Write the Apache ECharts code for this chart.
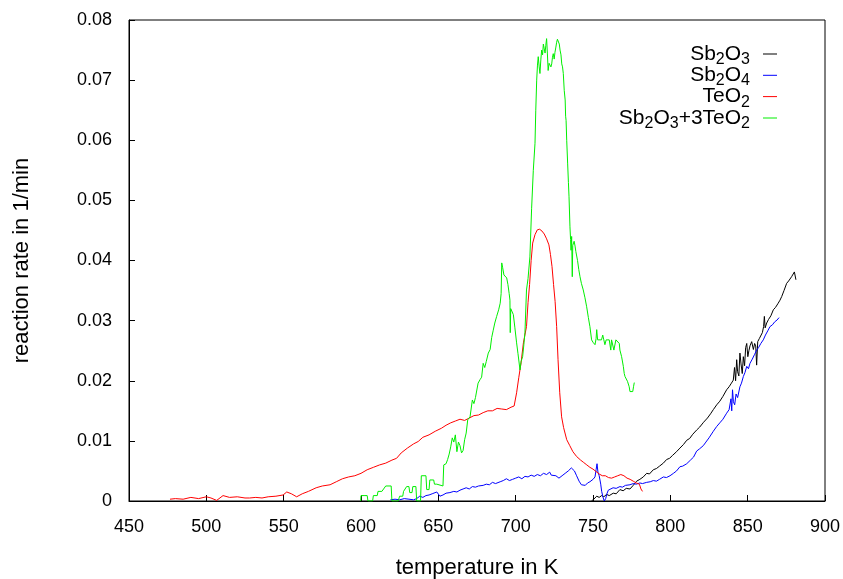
<!DOCTYPE html>
<html>
<head>
<meta charset="utf-8">
<script src="https://cdn.jsdelivr.net/npm/echarts@6/dist/echarts.min.js"></script>
<style>html,body{margin:0;padding:0;background:#fff;overflow:hidden;}#c{width:843px;height:579px;}</style>
</head>
<body>
<div id="c"></div>
<script>
// ---- data ----
const xTicks = [450, 500, 550, 600, 650, 700, 750, 800, 850, 900];
const yTicks = [0, 0.01, 0.02, 0.03, 0.04, 0.05, 0.06, 0.07, 0.08];
const seriesNames = ['Sb2O3', 'Sb2O4', 'TeO2', 'Sb2O3+3TeO2'];
const legendLabels = ['{n|Sb}{s|2}{n|O}{s|3}', '{n|Sb}{s|2}{n|O}{s|4}', '{n|TeO}{s|2}', '{n|Sb}{s|2}{n|O}{s|3}{n|+3TeO}{s|2}'];

const sb2o3T = [749, 750.5, 752.4, 754, 755.6, 757, 758.8, 760.5, 763.1, 765, 767.4, 769.5, 771.5, 773.9, 776, 778.2, 780.3, 782.5, 784.7, 786.5, 789, 791, 793, 795.5, 797.6, 799.5, 801.5, 804, 806.2, 808.5, 810.6, 812.5, 814.5, 817, 819, 821.5, 824, 826, 827.8, 830, 832, 834, 836.4, 838, 839.5, 840.7, 841.5, 842.2, 842.9, 843.5, 844.3, 845, 845.7, 846.5, 847.2, 848, 848.7, 849.4, 850.1, 850.8, 851.5, 852.6, 853.7, 854.5, 855.2, 855.8, 856.5, 857.5, 858.5, 859.5, 860.3, 860.8, 861.3, 862.3, 863.5, 865, 866.6, 868, 869.5, 870.9, 872, 873.5, 875.2, 876.5, 878.4, 879.3, 880.2, 881.2];
const sb2o3R = [0.0, 0.0003, 0.0008, 0.0006, 0.0009, 0.0007, 0.0011, 0.0009, 0.0013, 0.0012, 0.0019, 0.0017, 0.0021, 0.0020, 0.0026, 0.0033, 0.0036, 0.0040, 0.0046, 0.0045, 0.0052, 0.0054, 0.0058, 0.0063, 0.0069, 0.0071, 0.0076, 0.0082, 0.0088, 0.0094, 0.0101, 0.0104, 0.0111, 0.0118, 0.0123, 0.0131, 0.0138, 0.0145, 0.0152, 0.0160, 0.0166, 0.0174, 0.0185, 0.0190, 0.0196, 0.0201, 0.0222, 0.0200, 0.0235, 0.0215, 0.0208, 0.0246, 0.0228, 0.0212, 0.0240, 0.0225, 0.0255, 0.0262, 0.0240, 0.0250, 0.0258, 0.0265, 0.0252, 0.0262, 0.0258, 0.0226, 0.0265, 0.0270, 0.0272, 0.0280, 0.0290, 0.0307, 0.0288, 0.0296, 0.0302, 0.0308, 0.0318, 0.0322, 0.0328, 0.0334, 0.0340, 0.0350, 0.0362, 0.0366, 0.0373, 0.0376, 0.0381, 0.0368];

const sb2o4T = [619, 622, 625, 628, 631, 634, 636, 638, 640, 642, 644, 646, 649, 651, 653, 655, 657.5, 660, 662, 664, 666, 668, 670, 672, 674, 676, 679, 681, 683, 685, 687, 690, 692, 694, 696, 698, 700, 702, 704, 706, 708, 710, 712, 714, 716, 718, 720, 722, 723, 724, 726, 728, 730, 732, 734, 736, 737, 738, 739.4, 741, 742.5, 743.7, 745, 746.5, 748, 750, 751.3, 752, 752.6, 753.2, 754, 755, 755.6, 756.5, 757.3, 758.2, 759, 759.9, 761, 763, 765, 767.4, 769, 771, 773.9, 776, 778, 780.3, 782, 784.7, 787, 789, 791, 793, 795.5, 797.5, 799.8, 802, 804, 806.2, 808, 810.6, 813, 815, 817, 819, 821.3, 823, 825, 827.8, 830, 832, 834, 836.4, 838, 839.2, 839.7, 840.2, 840.8, 841.6, 842.5, 843.5, 845, 846, 847.2, 848.3, 849.4, 850.5, 851.5, 853, 854.5, 855.8, 857, 858.5, 860.1, 861.5, 863, 864.4, 866, 867.5, 869, 870.3];
const sb2o4R = [0.0002, 0.0003, 0.0002, 0.0004, 0.0003, 0.0002, 0.0004, 0.0008, 0.0006, 0.0009, 0.0010, 0.0012, 0.0015, 0.0008, 0.0010, 0.0013, 0.0014, 0.0016, 0.0015, 0.0018, 0.0020, 0.0022, 0.0020, 0.0024, 0.0023, 0.0025, 0.0026, 0.0028, 0.0027, 0.0031, 0.0029, 0.0032, 0.0034, 0.0037, 0.0034, 0.0036, 0.0038, 0.0040, 0.0037, 0.0041, 0.0040, 0.0043, 0.0041, 0.0044, 0.0042, 0.0046, 0.0044, 0.0048, 0.0043, 0.0046, 0.0042, 0.0038, 0.0042, 0.0046, 0.0050, 0.0055, 0.0056, 0.0050, 0.0042, 0.0033, 0.0027, 0.0024, 0.0026, 0.0030, 0.0032, 0.0036, 0.0040, 0.0052, 0.0062, 0.0048, 0.0042, 0.0028, 0.0016, 0.0006, 0.0, 0.0004, 0.0012, 0.0018, 0.0020, 0.0022, 0.0021, 0.0024, 0.0023, 0.0026, 0.0027, 0.0029, 0.0028, 0.0030, 0.0029, 0.0031, 0.0032, 0.0034, 0.0033, 0.0036, 0.0040, 0.0039, 0.0042, 0.0046, 0.0050, 0.0057, 0.0058, 0.0062, 0.0068, 0.0073, 0.0083, 0.0087, 0.0092, 0.0098, 0.0105, 0.0116, 0.0124, 0.0130, 0.0136, 0.0146, 0.0152, 0.0170, 0.0150, 0.0185, 0.0165, 0.0160, 0.0178, 0.0172, 0.0190, 0.0196, 0.0207, 0.0214, 0.0224, 0.0220, 0.0229, 0.0236, 0.0244, 0.0251, 0.0255, 0.0262, 0.0268, 0.0276, 0.0283, 0.0290, 0.0293, 0.0298, 0.0301, 0.0305];

const teo2T = [476.5, 480, 485, 490, 495, 500, 503, 506.7, 510.8, 515, 520, 525, 528, 532, 536, 540, 545, 549.6, 552, 555, 558.4, 562, 566, 571, 575, 580, 584, 588, 592, 596, 600, 604, 608, 612, 616, 620, 623, 626, 630, 634, 637, 640, 644, 648, 652, 655, 658, 661, 664, 667, 670, 673, 676, 679, 682, 685, 688, 691, 694, 697, 699, 700.6, 702, 703.5, 705, 707, 708, 709, 710, 711, 712.5, 714, 715.5, 717, 718.5, 720, 721.5, 722.5, 723.5, 724.5, 725.5, 726.5, 727.4, 728.5, 729.7, 731, 733, 735, 737, 739.4, 742, 744, 746, 748, 750, 752, 754, 756, 758, 760, 762, 764, 766, 768, 770, 772, 774, 776, 778, 780, 781, 782];
const teo2R = [0.0003, 0.0004, 0.0003, 0.0006, 0.0004, 0.0007, 0.0005, 0.0001, 0.0009, 0.0006, 0.0007, 0.0005, 0.0005, 0.0006, 0.0005, 0.0007, 0.0008, 0.0010, 0.0015, 0.0012, 0.0007, 0.0012, 0.0016, 0.0022, 0.0025, 0.0027, 0.0032, 0.0037, 0.0040, 0.0042, 0.0046, 0.0052, 0.0056, 0.0060, 0.0063, 0.0068, 0.0071, 0.0080, 0.0088, 0.0095, 0.0099, 0.0106, 0.0110, 0.0116, 0.0121, 0.0126, 0.0130, 0.0133, 0.0136, 0.0134, 0.0138, 0.0142, 0.0143, 0.0147, 0.0150, 0.0150, 0.0154, 0.0153, 0.0152, 0.0156, 0.0158, 0.0180, 0.0205, 0.0230, 0.0263, 0.0290, 0.0330, 0.0360, 0.0400, 0.0429, 0.0443, 0.0451, 0.0452, 0.0449, 0.0444, 0.0436, 0.0426, 0.0410, 0.0390, 0.0360, 0.0332, 0.0290, 0.0235, 0.0180, 0.0140, 0.0122, 0.0102, 0.0092, 0.0082, 0.0074, 0.0068, 0.0064, 0.0060, 0.0056, 0.0053, 0.0049, 0.0045, 0.0042, 0.0042, 0.0039, 0.0038, 0.0040, 0.0042, 0.0044, 0.0042, 0.0038, 0.0036, 0.0033, 0.0030, 0.0028, 0.0020, 0.0016];

const mixT = [599.8, 600, 602, 604, 604.5, 607.5, 608, 610.5, 611, 613.5, 614, 616, 619.5, 620, 624, 625, 627, 627.5, 629.5, 631, 631.5, 633, 633.5, 635.5, 636, 638.5, 639, 642, 642.5, 644, 644.5, 647, 647.5, 649, 649.5, 653, 653.5, 655, 656, 657, 658, 659, 660, 661, 662, 663, 664, 665, 666, 667, 668, 669, 670.5, 672, 673, 674, 675.7, 677, 678, 679, 680, 681, 682.3, 683.5, 684.5, 685.5, 686.5, 687.7, 689, 690, 690.6, 691, 691.6, 692.4, 693.3, 694.2, 695, 695.8, 696.3, 696.5, 696.8, 697.5, 698.5, 699.5, 700.6, 701.5, 702.8, 703.5, 704.5, 705.3, 706, 707, 708, 709.2, 710.3, 711.4, 712.5, 713, 713.6, 714.1, 714.6, 715.2, 715.7, 716.3, 716.8, 717.4, 717.9, 718.5, 719, 719.5, 720, 720.5, 721, 721.6, 722.2, 722.8, 723.3, 723.8, 724.3, 724.9, 725.4, 726, 726.5, 727, 727.6, 728.2, 728.7, 729.3, 729.8, 730.3, 730.8, 731.4, 732, 732.3, 732.6, 733, 733.6, 734.1, 734.5, 735.1, 735.5, 735.8, 736.2, 736.6, 736.9, 737.3, 737.8, 738.4, 738.9, 739.4, 740, 740.8, 741.6, 742.5, 743.7, 744.8, 745.9, 747, 748, 748.5, 749.1, 750, 751.3, 752, 752.4, 753, 754, 755.5, 756.3, 757, 757.7, 758.5, 759.5, 760.5, 761.5, 762, 763, 763.5, 764.2, 764.8, 766, 767, 767.4, 768.5, 769.6, 770.2, 770.7, 771.5, 772.3, 772.8, 773.4, 773.9, 775, 775.7, 776.2, 776.7];
const mixR = [0.0, 0.0009, 0.0009, 0.0009, 0.0, 0.0, 0.0009, 0.0009, 0.0016, 0.0016, 0.0018, 0.0025, 0.0025, 0.0, 0.0, 0.0008, 0.0008, 0.0016, 0.0024, 0.0024, 0.0014, 0.0014, 0.0024, 0.0024, 0.0, 0.0, 0.0042, 0.0042, 0.0019, 0.0019, 0.0035, 0.0035, 0.0028, 0.0028, 0.0025, 0.0025, 0.0060, 0.0062, 0.0069, 0.0078, 0.0090, 0.0105, 0.0098, 0.0110, 0.0082, 0.0098, 0.0092, 0.0080, 0.0084, 0.0102, 0.0113, 0.0135, 0.0140, 0.0168, 0.0162, 0.0172, 0.0196, 0.0202, 0.0206, 0.0229, 0.0222, 0.0232, 0.0246, 0.0252, 0.0272, 0.0284, 0.0296, 0.0307, 0.0318, 0.0329, 0.0345, 0.0396, 0.0388, 0.0376, 0.0378, 0.0371, 0.0360, 0.0345, 0.0334, 0.0280, 0.0320, 0.0318, 0.0310, 0.0288, 0.0263, 0.0245, 0.0218, 0.0232, 0.0240, 0.0260, 0.0280, 0.0351, 0.0370, 0.0406, 0.0486, 0.0550, 0.0595, 0.0650, 0.0700, 0.0725, 0.0739, 0.0722, 0.0711, 0.0735, 0.0750, 0.0742, 0.0760, 0.0752, 0.0745, 0.0758, 0.0769, 0.0745, 0.0716, 0.0728, 0.0730, 0.0722, 0.0727, 0.0738, 0.0744, 0.0735, 0.0746, 0.0755, 0.0763, 0.0768, 0.0769, 0.0760, 0.0750, 0.0742, 0.0727, 0.0722, 0.0711, 0.0683, 0.0667, 0.0640, 0.0633, 0.0600, 0.0562, 0.0530, 0.0506, 0.0456, 0.0435, 0.0417, 0.0440, 0.0373, 0.0425, 0.0428, 0.0432, 0.0424, 0.0415, 0.0412, 0.0400, 0.0385, 0.0373, 0.0362, 0.0351, 0.0338, 0.0323, 0.0305, 0.0290, 0.0293, 0.0268, 0.0264, 0.0260, 0.0270, 0.0285, 0.0268, 0.0268, 0.0268, 0.0276, 0.0268, 0.0260, 0.0268, 0.0268, 0.0268, 0.0251, 0.0268, 0.0268, 0.0251, 0.0251, 0.0268, 0.0268, 0.0262, 0.0251, 0.0240, 0.0224, 0.0212, 0.0207, 0.0207, 0.0199, 0.0199, 0.0190, 0.0182, 0.0182, 0.0182, 0.0190, 0.0197];

const seriesT = [sb2o3T, sb2o4T, teo2T, mixT];
const seriesR = [sb2o3R, sb2o4R, teo2R, mixR];
const colors = ['#000000', '#0000ff', '#ff0000', '#00ee00'];

const font = 'Liberation Sans, Arial, Helvetica, sans-serif';
const chart = echarts.init(document.getElementById('c'), null, {renderer: 'canvas'});

const legendTops = [43.5, 64.8, 86.1, 107.5];
const legends = seriesNames.map((n, i) => ({
  orient: 'vertical', right: 66, top: legendTops[i], align: 'right', padding: 0,
  itemWidth: 14, itemHeight: 1, icon: 'rect',
  data: [n],
  formatter: () => legendLabels[i],
  textStyle: {
    padding: [0, 8, 0, 0],
    rich: {
      n: {fontSize: 21, lineHeight: 21, verticalAlign: 'top', fontFamily: font, color: '#000'},
      s: {fontSize: 16, lineHeight: 21, padding: [8, 0, 12, 0], verticalAlign: 'top', fontFamily: font, color: '#000'}
    }
  }
}));

chart.setOption({
  animation: false,
  backgroundColor: '#ffffff',
  grid: {left: 129, right: 18, top: 20, bottom: 78, show: true, borderColor: '#000', borderWidth: 1,
    backgroundColor: 'transparent', outerBoundsMode: 'none', containLabel: false},
  legend: legends,
  xAxis: {
    type: 'value', min: xTicks[0], max: xTicks[xTicks.length - 1], interval: xTicks[1] - xTicks[0],
    name: 'temperature in K', nameLocation: 'middle', nameGap: 56,
    nameTextStyle: {fontSize: 22, fontFamily: font, color: '#000'},
    axisLine: {lineStyle: {color: '#000', width: 1}},
    axisTick: {inside: true, length: 6, lineStyle: {color: '#000'}},
    axisLabel: {fontSize: 18, fontFamily: font, color: '#000', margin: 17},
    splitLine: {show: false}
  },
  yAxis: {
    type: 'value', min: yTicks[0], max: yTicks[yTicks.length - 1], interval: yTicks[1] - yTicks[0],
    name: 'reaction rate in 1/min', nameLocation: 'middle', nameGap: 96,
    nameTextStyle: {fontSize: 22, fontFamily: font, color: '#000'},
    axisLine: {show: true, lineStyle: {color: '#000', width: 1}},
    axisTick: {show: true, inside: true, length: 6, lineStyle: {color: '#000'}},
    axisLabel: {fontSize: 18, fontFamily: font, color: '#000', margin: 17,
      formatter: v => v === 0 ? '0' : String(+v.toFixed(2))},
    splitLine: {show: false}
  },
  series: seriesNames.map((n, i) => ({
    name: n, type: 'line', showSymbol: false, symbol: 'none',
    color: colors[i],
    lineStyle: {width: 1, color: colors[i]},
    data: seriesT[i].map((t, k) => [t, seriesR[i][k]])
  }))
});
</script>
</body>
</html>
